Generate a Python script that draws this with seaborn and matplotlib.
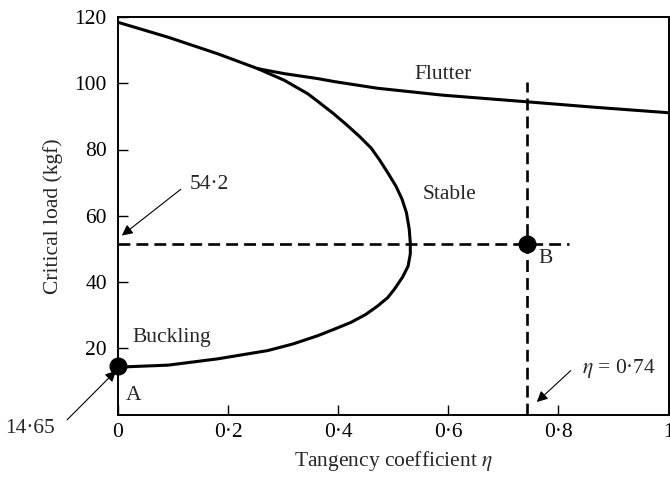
import matplotlib
matplotlib.use("Agg")
import matplotlib.pyplot as plt
import seaborn as sns
import pandas as pd

# ---- data ----
boundary_eta = [0.0, 0.091, 0.181, 0.272, 0.318, 0.363, 0.395, 0.423, 0.45, 0.472,
                0.49, 0.502, 0.517, 0.527, 0.531, 0.531, 0.529, 0.524, 0.516,
                0.505, 0.49, 0.475, 0.46, 0.439, 0.415, 0.391, 0.367, 0.345,
                0.302, 0.254, 0.181, 0.091, 0.0]
boundary_load = [14.3, 14.9, 16.8, 19.3, 21.3, 23.8, 25.9, 27.8, 30.2, 32.8,
                 35.3, 37.8, 41.5, 44.8, 48.5, 51.8, 56.0, 60.9, 65.0,
                 68.9, 73.0, 76.9, 80.4, 83.9, 87.5, 90.9, 94.0, 96.8,
                 100.9, 104.4, 108.9, 113.9, 118.4]
flutter_eta = [0.254, 0.302, 0.363, 0.393, 0.471, 0.59, 0.743, 0.87, 1.0]
flutter_load = [104.4, 102.9, 101.4, 100.5, 98.5, 96.4, 94.4, 92.7, 91.1]
point_A = (0.0, 14.65)
point_B = (0.743, 51.5)
hline_eta = [0.0, 0.82]
vline_load = [0.0, 100.3]
x_ticks = [0, 0.2, 0.4, 0.6, 0.8, 1.0]
x_tick_labels = ["0", "0·2", "0·4", "0·6", "0·8", "1"]
y_ticks = [20, 40, 60, 80, 100, 120]
y_tick_labels = ["20", "40", "60", "80", "100", "120"]

sns.set_style("ticks")
plt.rcParams["font.family"] = ["Liberation Serif", "DejaVu Serif"]
plt.rcParams["mathtext.fontset"] = "stix"
FS = 15.5

fig = plt.figure(figsize=(6.7, 4.8), dpi=100)
ax = fig.add_axes([118 / 670, 1 - 414.5 / 480, (668.5 - 118) / 670, (414.5 - 17) / 480])

bdf = pd.DataFrame({"eta": boundary_eta, "load": boundary_load})
fdf = pd.DataFrame({"eta": flutter_eta, "load": flutter_load})
sns.lineplot(data=bdf, x="eta", y="load", sort=False, estimator=None,
             color="black", lw=2.2, ax=ax)
sns.lineplot(data=fdf, x="eta", y="load", sort=False, estimator=None,
             color="black", lw=2.2, ax=ax)

dash = dict(color="black", lw=1.9, dashes=(4.5, 2.3))
ax.plot(hline_eta, [point_B[1]] * 2, **dash)
ax.plot([point_B[0]] * 2, vline_load, **dash)

ax.plot([point_A[0]], [point_A[1]], "o", color="black", ms=12, clip_on=False, zorder=5)
ax.plot([point_B[0]], [point_B[1]], "o", color="black", ms=12, zorder=5)

ax.set_xlim(0, 1)
ax.set_ylim(0, 120)
ax.set_xticks(x_ticks)
ax.set_xticklabels(x_tick_labels)
ax.set_yticks(y_ticks)
ax.set_yticklabels(y_tick_labels)
ax.tick_params(direction="in", length=7, width=1.0, labelsize=FS, colors="black")
ax.tick_params(axis="x", pad=6)
ax.tick_params(axis="y", pad=8)
for s in ax.spines.values():
    s.set_linewidth(1.4)
    s.set_color("black")

ax.set_xlabel(r"Tangency coefficient $\eta$", fontsize=FS, labelpad=5)
ax.set_ylabel("Critical load (kgf)", fontsize=FS, labelpad=8)

# text labels
ax.text(0.59, 102.5, "Flutter", fontsize=FS, ha="center", va="center")
ax.text(0.603, 66.4, "Stable", fontsize=FS, ha="center", va="center")
ax.text(0.027, 23.1, "Buckling", fontsize=FS, ha="left", va="center")
ax.text(0.029, 5.8, "A", fontsize=FS, ha="center", va="center")
ax.text(0.777, 47.1, "B", fontsize=FS, ha="center", va="center")

ap = dict(arrowstyle="-|>", lw=0.8, color="black", mutation_scale=16)
ax.annotate("", xy=(0.003, 53.5), xytext=(0.118, 68.5), arrowprops=ap, annotation_clip=False)
ax.text(0.165, 69.4, "54·2", fontsize=FS, ha="center", va="center")
ax.annotate("", xy=(0.0, 13.8), xytext=(-0.096, -2.2), arrowprops=ap, annotation_clip=False)
ax.text(-0.16, -4.3, "14·65", fontsize=FS, ha="center", va="center", clip_on=False)
ax.annotate("", xy=(0.757, 3.2), xytext=(0.826, 13.8), arrowprops=ap, annotation_clip=False)
ax.text(0.842, 13.8, r"$\eta$ = 0·74", fontsize=FS, ha="left", va="center")

fig.savefig("out.png", dpi=100)
